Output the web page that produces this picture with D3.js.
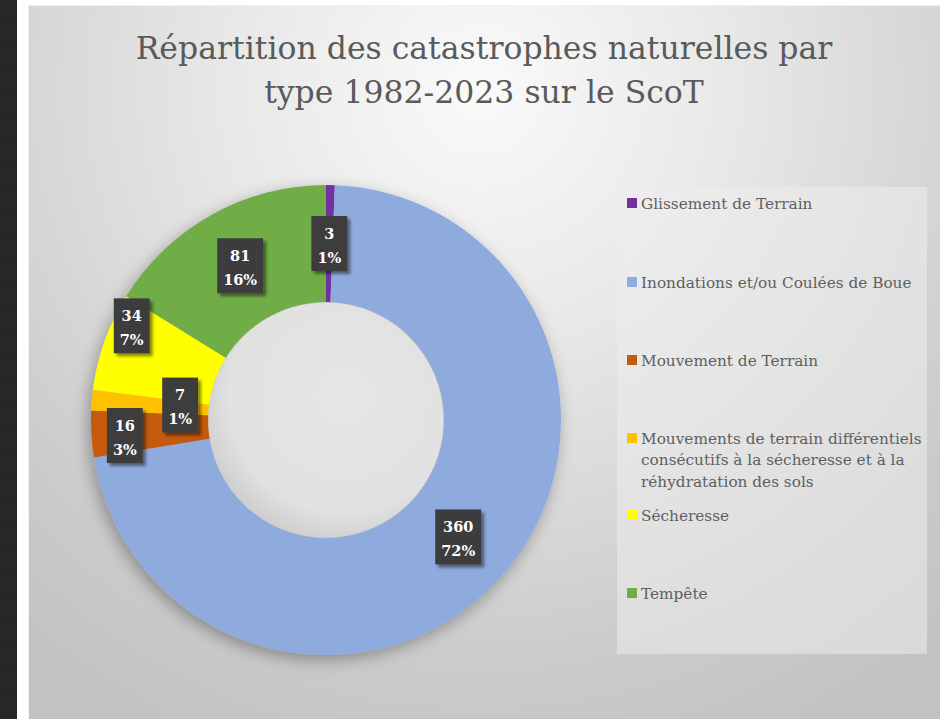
<!DOCTYPE html>
<html>
<head>
<meta charset="utf-8">
<script src="https://cdn.jsdelivr.net/npm/d3@7"></script>
<style>
  html, body { margin: 0; padding: 0; background: #ffffff; }
  svg { display: block; }
</style>
</head>
<body>
<svg id="chart" width="947" height="719"></svg>
<script>
// Catégories, valeurs et couleurs
const categories = [
  "Glissement de Terrain",
  "Inondations et/ou Coulées de Boue",
  "Mouvement de Terrain",
  "Mouvements de terrain différentiels consécutifs à la sécheresse et à la réhydratation des sols",
  "Sécheresse",
  "Tempête"
];
const values = [3, 360, 16, 7, 34, 81];
const colors = ["#7030a0", "#8faadc", "#c55a11", "#ffc000", "#ffff00", "#70ad47"];
const legendLines = [
  ["Glissement de Terrain"],
  ["Inondations et/ou Coulées de Boue"],
  ["Mouvement de Terrain"],
  ["Mouvements de terrain différentiels", "consécutifs à la sécheresse et à la", "réhydratation des sols"],
  ["Sécheresse"],
  ["Tempête"]
];
const titleLines = ["Répartition des catastrophes naturelles par", "type 1982-2023 sur le ScoT"];

// Mise en page
const W = 947, H = 719;
const panel = { x: 28, y: 5, w: 912, h: 714 };
const cx = 326, cy = 420, rOuter = 235, rInner = 118;
// décalage des étiquettes des petites parts (px)
const labelShift = { 2: [-25, 5], 3: [30, 0], 4: [-28, -35] };

const svg = d3.select("#chart");
const defs = svg.append("defs");

// fond du panneau
const bg = defs.append("radialGradient").attr("id", "bg")
  .attr("gradientUnits", "userSpaceOnUse")
  .attr("cx", 480).attr("cy", 90).attr("r", 720);
bg.append("stop").attr("offset", "0").attr("stop-color", "#fafafa");
bg.append("stop").attr("offset", "0.35").attr("stop-color", "#e8e8e8");
bg.append("stop").attr("offset", "0.8").attr("stop-color", "#cbcbcb");
bg.append("stop").attr("offset", "1").attr("stop-color", "#c2c2c2");

// trou central
const hole = defs.append("radialGradient").attr("id", "hole")
  .attr("cx", "0.58").attr("cy", "0.4").attr("r", "0.62");
hole.append("stop").attr("offset", "0").attr("stop-color", "#e6e6e6");
hole.append("stop").attr("offset", "0.8").attr("stop-color", "#e1e1e1");
hole.append("stop").attr("offset", "1").attr("stop-color", "#cfcfcf");

// ombre de l'anneau
const sh = defs.append("filter").attr("id", "ringShadow")
  .attr("x", "-20%").attr("y", "-20%").attr("width", "140%").attr("height", "140%");
sh.append("feDropShadow").attr("dx", -3).attr("dy", 5).attr("stdDeviation", 8)
  .attr("flood-color", "#000").attr("flood-opacity", 0.32);

// ombre des étiquettes
const bs = defs.append("filter").attr("id", "boxShadow")
  .attr("x", "-30%").attr("y", "-30%").attr("width", "170%").attr("height", "170%");
bs.append("feDropShadow").attr("dx", 3).attr("dy", 3).attr("stdDeviation", 1.6)
  .attr("flood-color", "#000").attr("flood-opacity", 0.45);

// texture pointillée des étiquettes
const pat = defs.append("pattern").attr("id", "dots")
  .attr("patternUnits", "userSpaceOnUse").attr("width", 4).attr("height", 4);
pat.append("rect").attr("width", 4).attr("height", 4).attr("fill", "#393939");
pat.append("circle").attr("cx", 1).attr("cy", 1).attr("r", 0.7).attr("fill", "#4c4c4c");
pat.append("circle").attr("cx", 3).attr("cy", 3).attr("r", 0.7).attr("fill", "#4c4c4c");

// texture de la barre gauche
const pat2 = defs.append("pattern").attr("id", "dark")
  .attr("patternUnits", "userSpaceOnUse").attr("width", 3).attr("height", 3);
pat2.append("rect").attr("width", 3).attr("height", 3).attr("fill", "#262626");
pat2.append("rect").attr("width", 1).attr("height", 1).attr("fill", "#2e2e2e");

// barre sombre à gauche
svg.append("rect").attr("x", 0).attr("y", 0).attr("width", 17).attr("height", H)
  .attr("fill", "url(#dark)");

// panneau
svg.append("rect").attr("x", panel.x).attr("y", panel.y)
  .attr("width", panel.w).attr("height", panel.h).attr("fill", "url(#bg)");
svg.append("path")
  .attr("d", `M${panel.x + 0.5},${H} V${panel.y + 0.5} H${panel.x + panel.w - 0.5}`)
  .attr("fill", "none").attr("stroke", "#f2f2f2").attr("stroke-width", 1);

// titre
svg.append("g").selectAll("text").data(titleLines).join("text")
  .attr("x", panel.x + panel.w / 2)
  .attr("y", (d, i) => 59 + i * 44)
  .attr("text-anchor", "middle")
  .attr("font-family", "'DejaVu Serif', serif")
  .attr("font-size", 31.5)
  .attr("fill", "#5a5a5a")
  .text(d => d);

// anneau
const pie = d3.pie().sort(null).value(d => d);
const arcs = pie(values);
const arc = d3.arc().innerRadius(rInner).outerRadius(rOuter);
const g = svg.append("g").attr("transform", `translate(${cx},${cy})`);

g.append("g").attr("filter", "url(#ringShadow)")
  .selectAll("path").data(arcs).join("path")
  .attr("d", arc)
  .attr("fill", (d, i) => colors[i]);

g.append("circle").attr("r", rInner - 0.5).attr("fill", "url(#hole)");

// étiquettes de données
const total = d3.sum(values);
const fmtPct = v => Math.round(v / total * 100) + "%";
const labelArc = d3.arc().innerRadius((rInner + rOuter) / 2).outerRadius((rInner + rOuter) / 2);

const lab = g.append("g").selectAll("g").data(arcs).join("g")
  .attr("transform", (d, i) => {
    const [x, y] = labelArc.centroid(d);
    const s = labelShift[i] || [0, 0];
    return `translate(${x + s[0]},${y + s[1]})`;
  });

lab.each(function (d) {
  const sel = d3.select(this);
  const lines = [String(d.value), fmtPct(d.value)];
  const t = sel.append("g");
  t.selectAll("text").data(lines).join("text")
    .attr("x", 0)
    .attr("y", (l, k) => k === 0 ? -5 : 19)
    .attr("text-anchor", "middle")
    .attr("font-family", "'DejaVu Serif', serif")
    .attr("font-weight", "bold")
    .attr("font-size", 14.5)
    .attr("fill", "#ffffff")
    .text(l => l);
  const wMax = d3.max(t.selectAll("text").nodes(), n => n.getComputedTextLength());
  const bw = Math.max(34, wMax + 12), bh = 55;
  sel.insert("rect", "g")
    .attr("x", -bw / 2).attr("y", -bh / 2)
    .attr("width", bw).attr("height", bh)
    .attr("fill", "url(#dots)")
    .attr("filter", "url(#boxShadow)");
});

// légende
const legend = svg.append("g");
legend.append("rect").attr("x", 617).attr("y", 187).attr("width", 310).attr("height", 467)
  .attr("fill", "#ececec").attr("fill-opacity", 0.55);

const itemY = [203, 282, 360, 438, 515, 593];
const li = legend.selectAll("g.item").data(categories).join("g")
  .attr("class", "item")
  .attr("transform", (d, i) => `translate(627,${itemY[i]})`);
li.append("rect").attr("x", 0).attr("y", -5).attr("width", 10).attr("height", 10)
  .attr("fill", (d, i) => colors[i]);
li.each(function (d, i) {
  d3.select(this).selectAll("text").data(legendLines[i]).join("text")
    .attr("x", 14)
    .attr("y", (l, k) => 5.5 + k * 21.5)
    .attr("font-family", "'DejaVu Serif', serif")
    .attr("font-size", 15.3)
    .attr("fill", "#5f5f5f")
    .text(l => l);
});
</script>
</body>
</html>
